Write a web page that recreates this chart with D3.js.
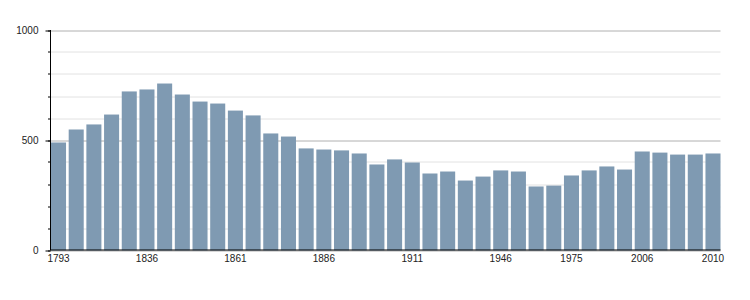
<!DOCTYPE html>
<html>
<head>
<meta charset="utf-8">
<script src="https://cdn.jsdelivr.net/npm/d3@7"></script>
<style>
  body { margin: 0; background: #fff; }
  text { font-family: "Liberation Sans", Arial, sans-serif; font-size: 10px; fill: #222; }
</style>
</head>
<body>
<div id="chart"></div>
<script>
// ----------------------------------------------
// Data
// ----------------------------------------------
const years = [1793, 1800, 1806, 1821, 1831, 1836, 1841, 1846, 1851, 1856,
  1861, 1866, 1872, 1876, 1881, 1886, 1891, 1896, 1901, 1906,
  1911, 1921, 1926, 1931, 1936, 1946, 1954, 1962, 1968, 1975,
  1982, 1990, 1999, 2006, 2007, 2008, 2009, 2010];

const population = [491, 550, 573, 618, 723, 732, 759, 709, 677, 668,
  636, 614, 532, 518, 464, 459, 455, 441, 391, 414,
  400, 350, 359, 318, 336, 364, 359, 291, 295, 341,
  364, 382, 368, 450, 445, 436, 436, 441];

const labelYears = [1793, 1836, 1861, 1886, 1911, 1946, 1975, 2006, 2010];
const majorTicks = [0, 500, 1000];
const minorTicks = d3.range(0, 1001, 100);

// ----------------------------------------------
// Layout
// ----------------------------------------------
const width = 750, height = 300;
const plotLeft = 50.5, plotRight = 720.5, plotTop = 30.5, plotBottom = 250.5;

const svg = d3.select('#chart').append('svg')
  .attr('width', width)
  .attr('height', height);

const x = d3.scaleBand()
  .domain(years)
  .range([plotLeft + 0.5, plotRight])
  .paddingInner(0.15)
  .paddingOuter(0);

const y = d3.scaleLinear()
  .domain([0, 1000])
  .range([plotBottom, plotTop]);

const py = d => Math.round(y(d)) + 0.5;

// gridlines
svg.append('g')
  .selectAll('line')
  .data(minorTicks)
  .join('line')
  .attr('x1', plotLeft)
  .attr('x2', plotRight)
  .attr('y1', d => py(d) - 0.5)
  .attr('y2', d => py(d) - 0.5)
  .attr('stroke', d => majorTicks.includes(d) ? '#b0b0b0' : '#e2e2e2')
  .attr('stroke-width', 1);

// bars
svg.append('g')
  .selectAll('rect')
  .data(years.map((yr, i) => ({ yr, v: population[i] })))
  .join('rect')
  .attr('x', d => x(d.yr))
  .attr('width', x.bandwidth())
  .attr('y', d => y(d.v))
  .attr('height', d => y(0) - y(d.v))
  .attr('fill', '#7f9ab2');

// y axis: minor ticks, then major ones with labels
const yAxis = svg.append('g');
yAxis.selectAll('line.minor')
  .data(minorTicks)
  .join('line')
  .attr('class', 'minor')
  .attr('x1', plotLeft - 2.5)
  .attr('x2', plotLeft)
  .attr('y1', d => py(d) - 0.5)
  .attr('y2', d => py(d) - 0.5)
  .attr('stroke', '#000');

yAxis.selectAll('line.major')
  .data(majorTicks)
  .join('line')
  .attr('class', 'major')
  .attr('x1', plotLeft - 5)
  .attr('x2', plotLeft)
  .attr('y1', d => py(d) - 0.5)
  .attr('y2', d => py(d) - 0.5)
  .attr('stroke', '#000');

yAxis.selectAll('text')
  .data(majorTicks)
  .join('text')
  .attr('x', plotLeft - 12)
  .attr('y', d => y(d))
  .attr('dy', '0.35em')
  .attr('text-anchor', 'end')
  .text(d => d);

yAxis.append('line')
  .attr('x1', plotLeft).attr('x2', plotLeft)
  .attr('y1', plotTop - 0.5).attr('y2', plotBottom)
  .attr('stroke', '#000');

// x axis
svg.append('line')
  .attr('x1', plotLeft).attr('x2', plotRight)
  .attr('y1', plotBottom - 0.5).attr('y2', plotBottom - 0.5)
  .attr('stroke', '#000');

svg.append('g')
  .selectAll('text')
  .data(labelYears)
  .join('text')
  .attr('x', d => x(d) + x.bandwidth() / 2)
  .attr('y', plotBottom + 8)
  .attr('dy', '0.35em')
  .attr('text-anchor', 'middle')
  .text(d => d);
</script>
</body>
</html>
